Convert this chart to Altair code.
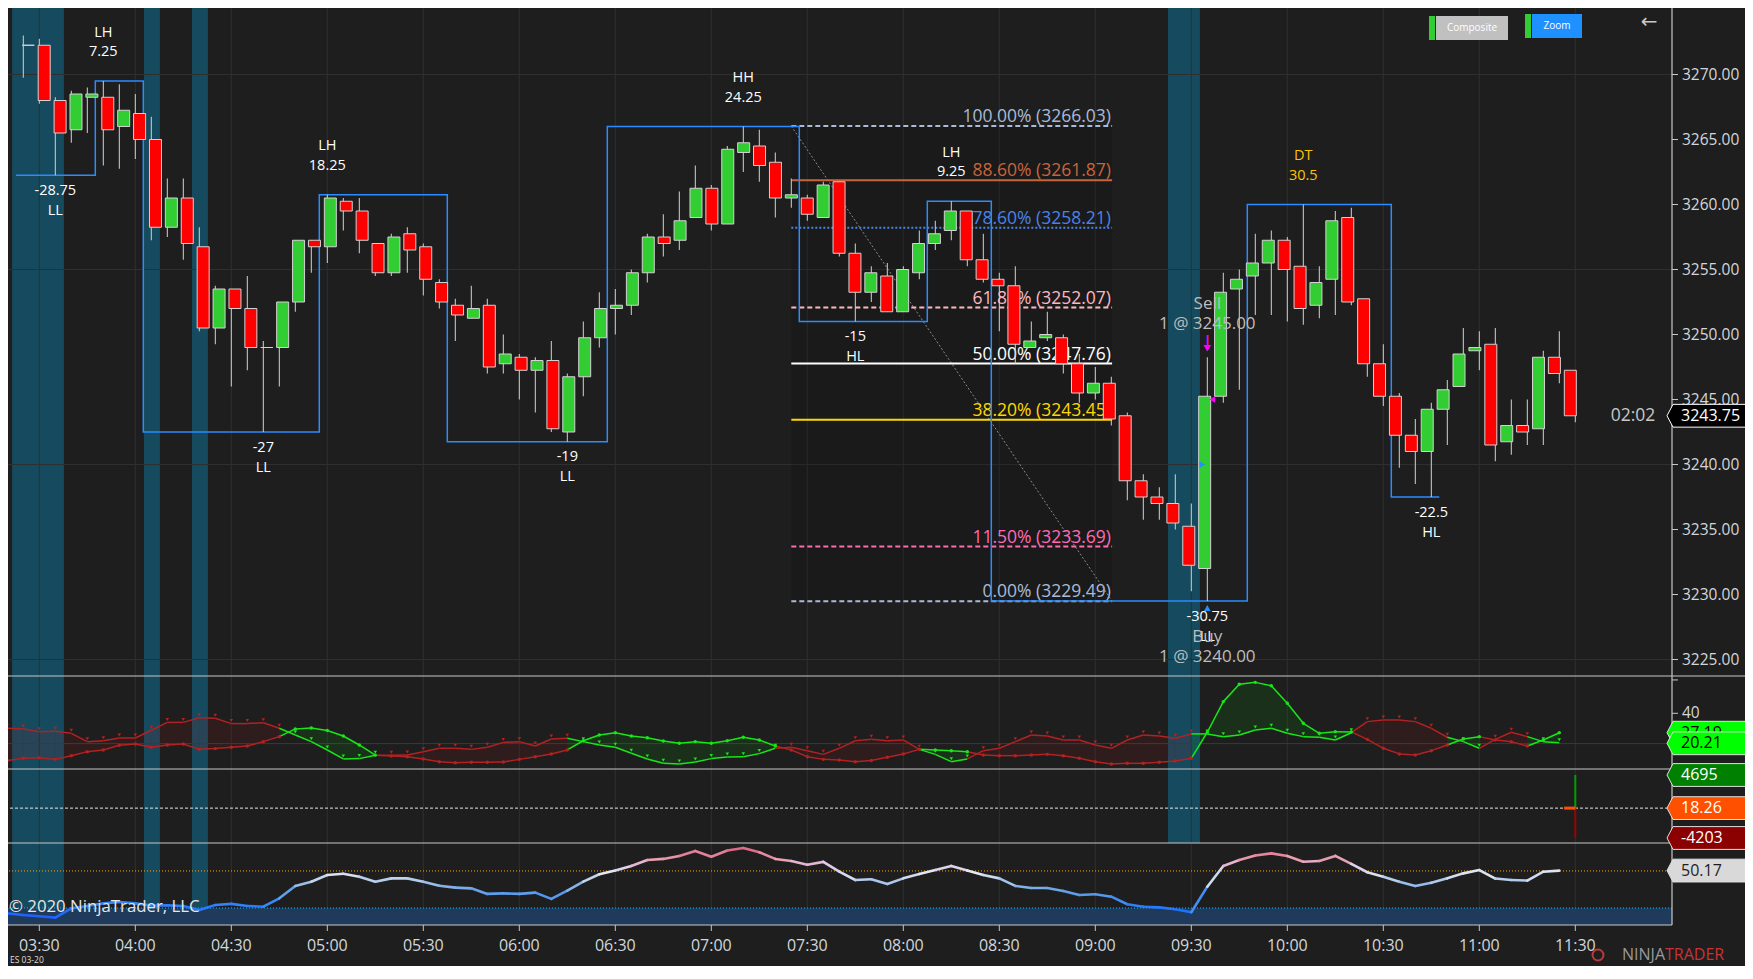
import altair as alt
import pandas as pd

W, H = 1753, 979
SX, SY = 1.0, 1.0


def px(v):
    return round(v * SX, 2)


def py(v):
    return round(v * SY, 2)


FONT = "Open Sans"
BG = "#1E1E1E"
GRID = "#2F2F2F"
AXIS_TXT = "#D2D6DC"
UP = "#32CD32"
DOWN = "#FF0000"
WICK = "#D2D2D2"

# ---------------- price data (5-minute bars, index 0 = 03:30) ----------------
bar_index = list(range(-1, 97))
opens = [3272.25, 3272.25, 3268.00, 3265.75, 3268.25, 3268.25, 3266.00, 3267.00, 3265.00, 3258.25,
         3260.50, 3256.75, 3250.50, 3253.50, 3252.00, 3249.00, 3249.00, 3252.50, 3257.25, 3256.75,
         3260.25, 3259.50, 3257.00, 3254.75, 3257.75, 3256.75, 3254.00, 3252.25, 3251.25, 3252.25,
         3247.75, 3248.25, 3247.25, 3248.00, 3242.50, 3246.75, 3249.75, 3252.00, 3252.25, 3254.75,
         3257.50, 3257.25, 3259.00, 3261.25, 3258.50, 3264.00, 3264.50, 3263.25, 3260.50, 3260.50,
         3259.00, 3261.75, 3256.25, 3253.25, 3254.50, 3251.75, 3254.75, 3257.00, 3258.00, 3259.50,
         3255.75, 3254.25, 3253.75, 3249.00, 3249.75, 3249.75, 3247.75, 3245.50, 3246.25, 3243.75,
         3238.75, 3237.50, 3237.00, 3235.25, 3232.00, 3245.25, 3253.50, 3254.50, 3255.50, 3257.25,
         3255.25, 3252.25, 3254.25, 3259.00, 3252.75, 3247.75, 3245.25, 3242.25, 3241.00, 3244.25,
         3246.00, 3248.75, 3249.25, 3241.75, 3243.00, 3242.75, 3248.25, 3247.25]
highs = [3273.00, 3272.75, 3268.25, 3268.75, 3269.00, 3269.50, 3269.25, 3268.50, 3266.75, 3262.00,
         3262.00, 3258.25, 3253.75, 3253.50, 3254.50, 3249.50, 3252.50, 3257.25, 3257.25, 3260.75,
         3260.50, 3260.50, 3257.00, 3257.75, 3258.25, 3257.00, 3254.25, 3252.75, 3253.75, 3252.75,
         3250.00, 3248.50, 3248.25, 3249.50, 3247.00, 3251.00, 3253.25, 3253.50, 3255.00, 3257.75,
         3259.25, 3261.00, 3263.00, 3261.50, 3264.50, 3266.00, 3265.75, 3264.00, 3262.00, 3260.75,
         3261.75, 3261.75, 3257.00, 3255.25, 3255.50, 3255.25, 3258.00, 3258.75, 3260.25, 3259.50,
         3257.75, 3254.75, 3255.25, 3251.00, 3251.75, 3250.00, 3248.50, 3247.50, 3246.75, 3244.00,
         3239.25, 3238.25, 3239.25, 3237.00, 3248.25, 3254.75, 3255.00, 3257.75, 3258.00, 3257.50,
         3260.00, 3255.25, 3259.50, 3259.75, 3252.75, 3249.25, 3245.50, 3243.50, 3244.75, 3246.50,
         3250.50, 3250.25, 3250.50, 3245.00, 3245.00, 3248.75, 3250.25, 3247.25]
lows = [3269.75, 3267.75, 3262.25, 3264.75, 3265.50, 3263.00, 3262.75, 3263.50, 3257.25, 3257.50,
        3255.75, 3250.25, 3249.25, 3246.00, 3247.25, 3242.50, 3246.00, 3251.75, 3254.75, 3255.50,
        3258.00, 3256.25, 3254.50, 3254.50, 3254.75, 3253.00, 3252.00, 3249.50, 3251.25, 3247.00,
        3247.00, 3245.00, 3244.00, 3242.50, 3241.75, 3245.25, 3249.00, 3250.00, 3251.50, 3254.00,
        3256.00, 3256.50, 3259.00, 3258.00, 3258.50, 3262.50, 3261.75, 3259.00, 3259.75, 3258.75,
        3259.00, 3256.00, 3251.00, 3252.50, 3251.75, 3251.75, 3254.25, 3256.50, 3257.25, 3255.25,
        3254.00, 3250.25, 3247.75, 3249.00, 3249.50, 3247.00, 3244.75, 3245.00, 3243.00, 3237.25,
        3235.75, 3235.75, 3235.00, 3230.25, 3229.50, 3244.75, 3245.75, 3251.50, 3251.50, 3251.00,
        3250.75, 3251.25, 3251.50, 3252.25, 3246.75, 3244.50, 3239.75, 3238.50, 3237.50, 3241.50,
        3246.00, 3247.25, 3240.25, 3240.75, 3241.50, 3241.50, 3246.25, 3243.25]
closes = [3272.25, 3268.00, 3265.50, 3268.50, 3268.50, 3265.75, 3267.25, 3265.00, 3258.25, 3260.50,
          3257.00, 3250.50, 3253.50, 3252.00, 3249.00, 3249.00, 3252.50, 3257.25, 3256.75, 3260.50,
          3259.50, 3257.25, 3254.75, 3257.50, 3256.50, 3254.25, 3252.50, 3251.50, 3252.00, 3247.50,
          3248.50, 3247.25, 3248.00, 3242.75, 3246.75, 3249.75, 3252.00, 3252.25, 3254.75, 3257.50,
          3257.00, 3258.75, 3261.25, 3258.50, 3264.25, 3264.75, 3263.00, 3260.50, 3260.75, 3259.25,
          3261.50, 3256.25, 3253.25, 3254.75, 3251.75, 3255.00, 3257.00, 3257.75, 3259.50, 3255.75,
          3254.25, 3253.75, 3249.25, 3249.50, 3250.00, 3247.75, 3245.50, 3246.25, 3243.50, 3238.75,
          3237.50, 3237.00, 3235.50, 3232.25, 3245.25, 3253.25, 3254.25, 3255.50, 3257.25, 3255.00,
          3252.00, 3254.00, 3258.75, 3252.50, 3247.75, 3245.25, 3242.25, 3241.00, 3244.25, 3245.75,
          3248.50, 3249.00, 3241.50, 3243.00, 3242.50, 3248.25, 3247.00, 3243.75]

time_ticks = list(range(0, 97, 6))
time_labels = ["03:30", "04:00", "04:30", "05:00", "05:30", "06:00", "06:30", "07:00", "07:30",
               "08:00", "08:30", "09:00", "09:30", "10:00", "10:30", "11:00", "11:30"]
price_ticks = [3270, 3265, 3260, 3255, 3250, 3245, 3240, 3235, 3230, 3225]
price_grid = [3270, 3255, 3240, 3225]

band_start = [-1.7, 6.54, 9.54]
band_end = [1.54, 7.54, 10.54]
band2_start = [70.54]
band2_end = [72.54]

# swing zig-zag (bar-boundary, swing price)
zz_x = [-1.46, 3.5, 3.5, 6.5, 6.5, 17.5, 17.5, 25.5, 25.5, 35.5, 35.5, 47.5, 47.5, 55.5, 55.5,
        59.5, 59.5, 75.5, 75.5, 84.5, 84.5, 87.5]
zz_p = [3262.25, 3262.25, 3269.5, 3269.5, 3242.5, 3242.5, 3260.75, 3260.75, 3241.75, 3241.75,
        3266.0, 3266.0, 3251.0, 3251.0, 3260.25, 3260.25, 3229.5, 3229.5, 3260.0, 3260.0,
        3237.5, 3237.5]

top_i = [4, 18, 44, 57, 79]
top_l1 = ["LH", "LH", "HH", "LH", "DT"]
top_l2 = ["7.25", "18.25", "24.25", "9.25", "30.5"]
top_col = ["#FFFFFF", "#FFFFFF", "#FFFFFF", "#FFFFFF", "#FFC400"]
bot_i = [1, 14, 33, 51, 73, 87]
bot_l1 = ["-28.75", "-27", "-19", "-15", "-30.75", "-22.5"]
bot_l2 = ["LL", "LL", "LL", "HL", "LL", "HL"]

fib_pct = ["100.00%", "88.60%", "78.60%", "61.80%", "50.00%", "38.20%", "11.50%", "0.00%"]
fib_price = [3266.03, 3261.87, 3258.21, 3252.07, 3247.76, 3243.45, 3233.69, 3229.49]
fib_color = ["#A9BAD8", "#C8643C", "#4A82E8", "#FFB6C1", "#FFFFFF", "#FFD700", "#FF69B4", "#A9BAD8"]
fib_dash = [[5, 3], None, [2, 2], [5, 3], None, None, [5, 3], [5, 3]]
fib_from, fib_to = 47, 67.05

# ---------------- indicator data ----------------
osc_i = list(range(-2, 96))
osc_tri = [30.1, 29.7, 27.9, 28.1, 26.8, 21.3, 21.9, 23.7, 23.7, 28.8,
           34.0, 34.0, 37.1, 36.7, 33.2, 33.2, 33.8, 30.1, 25.7, 21.3,
           15.8, 9.9, 10.1, 12.3, 12.3, 12.5, 14.7, 16.9, 16.9, 16.2,
           17.55, 20.8, 21.3, 18.4, 23.05, 23.5, 21.3, 19.1, 17.55, 13.6,
           9.9, 7.0, 6.6, 7.9, 10.1, 11.2, 11.4, 13.4, 16.9, 17.55,
           15.35, 12.9, 16.9, 21.9, 22.8, 21.9, 22.4, 16.2, 12.9, 8.1,
           9.9, 15.35, 16.9, 21.3, 25.7, 25.0, 22.4, 22.4, 19.1, 16.9,
           22.4, 25.7, 25.0, 23.5, 26.4, 26.4, 24.6, 25.7, 29.0, 30.1,
           26.8, 24.6, 24.2, 22.4, 27.2, 34.5, 35.6, 35.6, 34.5, 30.1,
           24.2, 21.3, 16.9, 22.8, 27.5, 24.6, 21.3, 20.6]
osc_dot = [8.8, 10.3, 10.7, 9.6, 12.05, 14.7, 15.8, 18.9, 19.75, 17.55,
           19.1, 19.75, 16.2, 16.7, 17.55, 18.4, 21.3, 24.6, 29.7, 30.3,
           28.6, 25.0, 19.1, 12.4, 11.8, 11.4, 9.9, 8.1, 7.4, 7.7,
           7.7, 7.9, 9.6, 11.4, 13.2, 15.8, 21.9, 25.7, 27.2, 25.0,
           23.9, 21.7, 20.2, 21.3, 20.2, 21.9, 24.2, 22.4, 18.4, 15.8,
           11.4, 9.6, 9.2, 8.1, 8.8, 10.96, 13.2, 16.2, 15.8, 15.35,
           14.7, 12.5, 12.05, 12.05, 12.5, 12.9, 12.05, 10.3, 8.1, 6.6,
           7.0, 7.0, 7.7, 8.5, 10.3, 27.5, 47.7, 59.1, 60.4, 58.2,
           46.6, 33.4, 26.8, 27.9, 27.7, 22.8, 16.9, 13.2, 12.5, 15.35,
           19.1, 23.05, 24.6, 22.4, 21.3, 18.4, 22.4, 27.2]
rsi = [27.1, 26.2, 25.5, 24.8, 29.8, 31.1, 32.5, 33.2, 32.5, 31.3,
       31.4, 31.1, 28.9, 31.6, 32.2, 31.1, 30.7, 35.2, 41.9, 44.2,
       47.8, 48.5, 46.9, 44.2, 46.0, 46.0, 44.2, 42.0, 41.0, 40.6,
       37.6, 37.9, 37.6, 38.3, 34.9, 39.4, 44.2, 48.2, 50.2, 52.7,
       55.9, 56.5, 58.1, 60.8, 57.7, 61.0, 62.4, 60.1, 56.5, 55.4,
       53.4, 54.9, 49.6, 45.1, 45.5, 43.0, 46.0, 48.4, 50.5, 52.7,
       50.2, 47.8, 46.0, 41.9, 40.8, 40.8, 39.2, 37.0, 37.4, 36.1,
       32.0, 30.7, 30.3, 29.3, 27.7, 41.5, 52.7, 55.9, 58.3, 59.5,
       58.1, 55.0, 55.4, 58.1, 53.8, 49.3, 46.9, 44.2, 41.9, 43.6,
       46.0, 48.7, 50.5, 45.9, 45.1, 44.8, 49.6, 50.2]
vol_hi, vol_mid, vol_lo = 4695, 18.26, -4203
osc_labels = ["27.19", "20.21"]
osc_label_val = [27.2, 20.21]
last_price = 3243.75
countdown = "02:02"
copyright_txt = "\u00a9 2020 NinjaTrader, LLC"
instrument_txt = "ES 03-20"

# ---------------- scales ----------------
XS = alt.Scale(domain=[-1, 96], range=[px(23.3), px(1575.3)], nice=False, zero=False)
PS = alt.Scale(domain=[3225, 3270], range=[py(659.5), py(74.5)], nice=False, zero=False)
OS = alt.Scale(domain=[3.25, 64.6], range=[py(769), py(676)], nice=False, zero=False)
VS = alt.Scale(domain=[vol_lo, vol_hi], range=[py(838), py(775)], nice=False, zero=False)
RS = alt.Scale(domain=[20.8, 65.1], range=[py(925), py(843)], nice=False, zero=False)


def X(f="i"):
    return alt.X(f"{f}:Q", scale=XS, axis=None)


def Y(f, s):
    return alt.Y(f"{f}:Q", scale=s, axis=None)


def one():
    return pd.DataFrame({"k": [0]})


def ptext(s, x, y, size=14, color="#FFFFFF", align="left", font=FONT):
    return alt.Chart(pd.DataFrame({"t": [s]})).mark_text(
        align=align, baseline="middle", fontSize=size, color=color, font=font
    ).encode(x=alt.value(px(x)), y=alt.value(py(y)), text="t:N")


def prect(x1, y1, x2, y2, color, opacity=1.0):
    return alt.Chart(one()).mark_rect(color=color, opacity=opacity).encode(
        x=alt.value(px(x1)), x2=alt.value(px(x2)), y=alt.value(py(y1)), y2=alt.value(py(y2)))


def prule(x1, y1, x2, y2, color, width=1.0, dash=None):
    kw = dict(color=color, strokeWidth=width)
    if dash:
        kw["strokeDash"] = dash
    return alt.Chart(one()).mark_rule(**kw).encode(
        x=alt.value(px(x1)), x2=alt.value(px(x2)), y=alt.value(py(y1)), y2=alt.value(py(y2)))


layers = []

# time-highlight bands
layers.append(alt.Chart(pd.DataFrame({"a": band_start, "b": band_end})).mark_rect(color="#164B5F").encode(
    x=X("a"), x2="b:Q", y=alt.value(0), y2=alt.value(py(925))))
layers.append(alt.Chart(pd.DataFrame({"a": band2_start, "b": band2_end})).mark_rect(color="#164B5F").encode(
    x=X("a"), x2="b:Q", y=alt.value(0), y2=alt.value(py(843))))

# grid
layers.append(alt.Chart(pd.DataFrame({"i": time_ticks})).mark_rule(color=GRID, strokeWidth=1).encode(
    x=X("i"), y=alt.value(0), y2=alt.value(py(925))))
layers.append(alt.Chart(pd.DataFrame({"p": price_grid})).mark_rule(color=GRID, strokeWidth=1).encode(
    y=Y("p", PS), x=alt.value(0), x2=alt.value(px(1672))))
layers.append(alt.Chart(pd.DataFrame({"v": [20]})).mark_rule(color="#3A3A3A", strokeWidth=1).encode(
    y=Y("v", OS), x=alt.value(0), x2=alt.value(px(1672))))

# fib zone shading + diagonal
layers.append(alt.Chart(pd.DataFrame({"a": [fib_from], "b": [fib_to], "p1": [fib_price[-1]], "p2": [fib_price[0]]}))
              .mark_rect(color="#000000", opacity=0.12).encode(x=X("a"), x2="b:Q", y=Y("p1", PS), y2="p2:Q"))
layers.append(alt.Chart(pd.DataFrame({"i": [fib_from, fib_to], "p": [fib_price[0], fib_price[-1]]}))
              .mark_line(color="#8C8C8C", strokeWidth=1, strokeDash=[2, 2]).encode(x=X("i"), y=Y("p", PS)))

for lvl, pr, colr, dsh in zip(fib_pct, fib_price, fib_color, fib_dash):
    kw = dict(color=colr, strokeWidth=2)
    if dsh:
        kw["strokeDash"] = dsh
    layers.append(alt.Chart(pd.DataFrame({"a": [fib_from], "b": [fib_to], "p": [pr]})).mark_rule(**kw).encode(
        x=X("a"), x2="b:Q", y=Y("p", PS)))
fdf = pd.DataFrame({"p": fib_price, "t": [f"{a} ({b:.2f})" for a, b in zip(fib_pct, fib_price)], "c": fib_color})
layers.append(alt.Chart(fdf).mark_text(align="right", baseline="alphabetic", fontSize=17.5, font=FONT, dy=-4 * SY).encode(
    x=alt.value(px(1111)), y=Y("p", PS), text="t:N", color=alt.Color("c:N", scale=None)))

# swing zig-zag boxes
layers.append(alt.Chart(pd.DataFrame({"x": zz_x, "p": zz_p, "k": list(range(len(zz_x)))})).mark_line(
    color="#2A8CFF", strokeWidth=1.5).encode(x=X("x"), y=Y("p", PS), order="k:Q"))

# candles
cdf = pd.DataFrame({"i": bar_index, "o": opens, "h": highs, "l": lows, "c": closes})
cdf["top"] = cdf[["o", "c"]].max(axis=1)
cdf["bot"] = cdf[["o", "c"]].min(axis=1)
cdf["col"] = [UP if c > o else (DOWN if c < o else WICK) for o, c in zip(opens, closes)]
layers.append(alt.Chart(cdf).mark_rule(color=WICK, strokeWidth=1).encode(x=X("i"), y=Y("l", PS), y2="h:Q"))
layers.append(alt.Chart(cdf).mark_bar(size=px(12), stroke=WICK, strokeWidth=1).encode(
    x=X("i"), y=Y("bot", PS), y2="top:Q", color=alt.Color("col:N", scale=None)))

# swing labels
tdf = pd.DataFrame({"i": top_i, "p": [highs[k + 1] for k in top_i], "a": top_l1, "b": top_l2, "c": top_col})
bdf = pd.DataFrame({"i": bot_i, "p": [lows[k + 1] for k in bot_i], "a": bot_l1, "b": bot_l2})
for dfl, fld, dyv in [(tdf, "a", -48.5), (tdf, "b", -29), (bdf, "a", 15.5), (bdf, "b", 35.5)]:
    enc = dict(x=X("i"), y=Y("p", PS), text=f"{fld}:N")
    if "c" in dfl.columns:
        enc["color"] = alt.Color("c:N", scale=None)
        mk = alt.Chart(dfl).mark_text(fontSize=14.5, font=FONT, baseline="middle", dy=dyv * SY)
    else:
        mk = alt.Chart(dfl).mark_text(fontSize=14.5, font=FONT, baseline="middle", dy=dyv * SY, color="#FFFFFF")
    layers.append(mk.encode(**enc))

# trade markers (bar 73)
trade_i = 73
sell_hi = highs[trade_i + 1]
buy_lo = lows[trade_i + 1]
sdf = pd.DataFrame({"i": [trade_i], "p": [sell_hi], "q": [buy_lo], "s1": ["Sell"], "s2": ["1 @ 3245.00"],
                    "b1": ["Buy"], "b2": ["1 @ 3240.00"], "sp": [3245.0], "bp": [3240.0]})
for fld, pf, dyv in [("s1", "p", -53.5), ("s2", "p", -33), ("b1", "q", 35.5), ("b2", "q", 55.5)]:
    layers.append(alt.Chart(sdf).mark_text(fontSize=17, font=FONT, baseline="middle", color="#BDBDBD", dy=dyv * SY).encode(
        x=X("i"), y=Y(pf, PS), text=f"{fld}:N"))
layers.append(alt.Chart(sdf).mark_point(shape="triangle-down", filled=True, size=60, color="#FF00FF", opacity=1,
                                        yOffset=-9 * SY).encode(x=X("i"), y=Y("p", PS)))
layers.append(alt.Chart(sdf).mark_text(fontSize=12, color="#FF00FF", baseline="middle", dy=-17 * SY, text="|",
                                       fontWeight="bold").encode(x=X("i"), y=Y("p", PS)))
layers.append(alt.Chart(sdf).mark_point(shape="triangle-up", filled=True, size=45, color="#1E90FF", opacity=1,
                                        yOffset=7 * SY).encode(x=X("i"), y=Y("q", PS)))
layers.append(alt.Chart(sdf).mark_point(shape="triangle-left", filled=True, size=40, color="#FF00FF", opacity=1,
                                        xOffset=5).encode(x=X("i"), y=Y("sp", PS)))
layers.append(alt.Chart(sdf).mark_point(shape="triangle-right", filled=True, size=40, color="#1E90FF", opacity=1,
                                        xOffset=-5).encode(x=X("i"), y=Y("bp", PS)))

# ---------------- panel 2 : directional oscillator ----------------
RED_L, GRN_L = "#B22222", "#19E619"
seg_rows, area_rows = [], []
for k in range(len(osc_i) - 1):
    g = osc_dot[k + 1] > osc_tri[k + 1]
    seg_rows.append(dict(i0=osc_i[k], i1=osc_i[k + 1], t0=osc_tri[k], t1=osc_tri[k + 1],
                         d0=osc_dot[k], d1=osc_dot[k + 1], col=GRN_L if g else RED_L))
    for j in (k, k + 1):
        area_rows.append(dict(seg=k, i=osc_i[j], t=osc_tri[j], d=osc_dot[j], col="#00C800" if g else "#C01010"))
segdf = pd.DataFrame(seg_rows)
layers.append(alt.Chart(pd.DataFrame(area_rows)).mark_area(opacity=0.11).encode(
    x=X("i"), y=Y("t", OS), y2="d:Q", detail="seg:N", color=alt.Color("col:N", scale=None)))
layers.append(alt.Chart(segdf).mark_rule(strokeWidth=1.5).encode(
    x=X("i0"), x2="i1:Q", y=Y("t0", OS), y2="t1:Q", color=alt.Color("col:N", scale=None)))
layers.append(alt.Chart(segdf).mark_rule(strokeWidth=1.5).encode(
    x=X("i0"), x2="i1:Q", y=Y("d0", OS), y2="d1:Q", color=alt.Color("col:N", scale=None)))
mdf = pd.DataFrame({"i": osc_i, "t": osc_tri, "d": osc_dot,
                    "col": [GRN_L if d > t else RED_L for t, d in zip(osc_tri, osc_dot)]})
layers.append(alt.Chart(mdf).mark_point(shape="triangle-down", filled=True, size=12, opacity=1, yOffset=-3).encode(
    x=X("i"), y=Y("t", OS), color=alt.Color("col:N", scale=None)))
layers.append(alt.Chart(mdf).mark_point(shape="circle", filled=True, size=12, opacity=1).encode(
    x=X("i"), y=Y("d", OS), color=alt.Color("col:N", scale=None)))

# ---------------- panel 3 : volume delta bar ----------------
layers.append(alt.Chart(pd.DataFrame({"v": [vol_mid]})).mark_rule(color="#E6E6E6", strokeWidth=1, strokeDash=[3, 2]).encode(
    y=Y("v", VS), x=alt.value(0), x2=alt.value(px(1672))))
vdf = pd.DataFrame({"i": [96], "a": [vol_mid], "b": [vol_hi], "c": [vol_lo], "j": [95.3]})
layers.append(alt.Chart(vdf).mark_rule(color="#00A000", strokeWidth=2).encode(x=X("i"), y=Y("a", VS), y2="b:Q"))
layers.append(alt.Chart(vdf).mark_rule(color="#A00000", strokeWidth=2).encode(x=X("i"), y=Y("a", VS), y2="c:Q"))
layers.append(alt.Chart(vdf).mark_rule(color="#FF5000", strokeWidth=3).encode(x=X("j"), x2="i:Q", y=Y("a", VS)))

# ---------------- panel 4 : RSI-like ----------------
layers.append(alt.Chart(pd.DataFrame({"a": [20.8], "b": [30]})).mark_rect(color="#1F3A5A").encode(
    y=Y("a", RS), y2="b:Q", x=alt.value(0), x2=alt.value(px(1672))))
layers.append(alt.Chart(pd.DataFrame({"v": [30]})).mark_rule(color="#00BFFF", strokeWidth=1, strokeDash=[1, 2]).encode(
    y=Y("v", RS), x=alt.value(0), x2=alt.value(px(1672))))
layers.append(alt.Chart(pd.DataFrame({"v": [50]})).mark_rule(color="#FFA500", strokeWidth=1, strokeDash=[1, 2]).encode(
    y=Y("v", RS), x=alt.value(0), x2=alt.value(px(1672))))
rrows = [dict(i0=osc_i[k], i1=osc_i[k + 1], r0=rsi[k], r1=rsi[k + 1], m=(rsi[k] + rsi[k + 1]) / 2)
         for k in range(len(osc_i) - 1)]
layers.append(alt.Chart(pd.DataFrame(rrows)).mark_rule(strokeWidth=2.6, strokeCap="round").encode(
    x=X("i0"), x2="i1:Q", y=Y("r0", RS), y2="r1:Q",
    color=alt.Color("m:Q", legend=None, scale=alt.Scale(domain=[28, 40, 49, 56, 62],
                                                        range=["#1E6FFF", "#6EA6E6", "#E6EAF0", "#E8A3B4", "#DD6585"]))))

# ---------------- separators & axes ----------------
for yy in (676, 769, 843):
    layers.append(prule(0, yy, 1753, yy, "#C8C8C8", 1.2))
layers.append(prule(0, 925, 1672, 925, "#C8C8C8", 1.2))
layers.append(prule(1672, 0, 1672, 925, "#C8C8C8", 1.2))

layers.append(alt.Chart(pd.DataFrame({"i": time_ticks})).mark_rule(color="#C8C8C8").encode(
    x=X("i"), y=alt.value(py(925)), y2=alt.value(py(931))))
layers.append(alt.Chart(pd.DataFrame({"i": time_ticks, "t": time_labels})).mark_text(
    fontSize=16, font=FONT, color=AXIS_TXT, baseline="middle").encode(x=X("i"), y=alt.value(py(946)), text="t:N"))

pdf = pd.DataFrame({"p": price_ticks, "t": [f"{p:.2f}" for p in price_ticks]})
layers.append(alt.Chart(pdf).mark_rule(color="#C8C8C8").encode(y=Y("p", PS), x=alt.value(px(1672)), x2=alt.value(px(1678))))
layers.append(alt.Chart(pdf).mark_text(fontSize=15.5, font=FONT, color=AXIS_TXT, align="left", baseline="middle").encode(
    y=Y("p", PS), x=alt.value(px(1682)), text="t:N"))

odf = pd.DataFrame({"v": [40, 62], "t": ["40", ""]})
layers.append(alt.Chart(odf).mark_rule(color="#C8C8C8").encode(y=Y("v", OS), x=alt.value(px(1672)), x2=alt.value(px(1678))))
layers.append(alt.Chart(odf).mark_text(fontSize=15.5, font=FONT, color=AXIS_TXT, align="left", baseline="middle").encode(
    y=Y("v", OS), x=alt.value(px(1682)), text="t:N"))

# ---------------- right-side value flags ----------------
FLAG = "M-1,0 L-0.86,-0.265 L1,-0.265 L1,0.265 L-0.86,0.265 Z"
FSIZE = (86 * SX) ** 2


def flag(df, yenc, fill, txtcol, stroke="#E0E0E0"):
    base = alt.Chart(df)
    f = base.mark_point(shape=FLAG, size=FSIZE, filled=True, opacity=1, fill=fill, stroke=stroke, strokeWidth=1).encode(
        x=alt.value(px(1710)), y=yenc)
    t = base.mark_text(fontSize=16, font=FONT, color=txtcol, align="left", baseline="middle").encode(
        x=alt.value(px(1681)), y=yenc, text="t:N")
    return [f, t]


for v, t in zip(osc_label_val, osc_labels):
    layers += flag(pd.DataFrame({"v": [v], "t": [t]}), Y("v", OS), "#00FF00", "#000000")
layers += flag(pd.DataFrame({"v": [vol_hi], "t": [str(vol_hi)]}), Y("v", VS), "#008000", "#FFFFFF")
layers += flag(pd.DataFrame({"v": [vol_mid], "t": [f"{vol_mid:.2f}"]}), Y("v", VS), "#FF5000", "#FFFFFF")
layers += flag(pd.DataFrame({"v": [vol_lo], "t": [str(vol_lo)]}), Y("v", VS), "#8B0000", "#FFFFFF")
layers += flag(pd.DataFrame({"v": [rsi[-1]], "t": ["50.17"]}), Y("v", RS), "#D9D9D9", "#1E1E1E")
layers += flag(pd.DataFrame({"v": [last_price], "t": [f"{last_price:.2f}"]}), Y("v", PS), "#000000", "#FFFFFF", "#FFFFFF")
layers.append(alt.Chart(pd.DataFrame({"v": [last_price], "t": [countdown]})).mark_text(
    fontSize=17.5, font=FONT, color="#C8C8C8", align="center", baseline="middle").encode(
    x=alt.value(px(1633)), y=Y("v", PS), text="t:N"))

# ---------------- decorations ----------------
layers.append(ptext(copyright_txt, 9, 907, 16.8, "#E6E6E6"))
layers.append(ptext(instrument_txt, 10, 960, 8.5, "#DDDDDD"))
layers.append(alt.Chart(one()).mark_point(shape="circle", size=120, filled=False, color="#B83A3A", strokeWidth=2, opacity=1).encode(
    x=alt.value(px(1598)), y=alt.value(py(955))))
layers.append(ptext("NINJA", 1665, 955, 16, "#9A9A9A", "right"))
layers.append(ptext("TRADER", 1665, 955, 16, "#C83434", "left"))

layers.append(prect(1429, 16, 1435, 40, UP))
layers.append(prect(1436, 16, 1508, 40, "#C0C0C0"))
layers.append(ptext("Composite", 1472, 28, 10, "#FFFFFF", "center"))
layers.append(prect(1525, 14, 1531, 38, UP))
layers.append(prect(1532, 14, 1582, 38, "#1E90FF"))
layers.append(ptext("Zoom", 1557, 26, 10, "#FFFFFF", "center"))
layers.append(ptext("\u2190", 1649, 22, 20, "#C8C8C8", "center", "DejaVu Sans"))

chart = alt.layer(*layers).resolve_scale(x="independent", y="independent", color="independent").properties(
    width=W, height=H, padding={"left": -8, "top": -8, "right": -8, "bottom": -13},
    autosize=alt.AutoSizeParams(type="none"), background=BG
).configure_view(strokeWidth=0, fill=BG)

chart.save("out.html", embed_options={"renderer": "svg", "actions": False})
